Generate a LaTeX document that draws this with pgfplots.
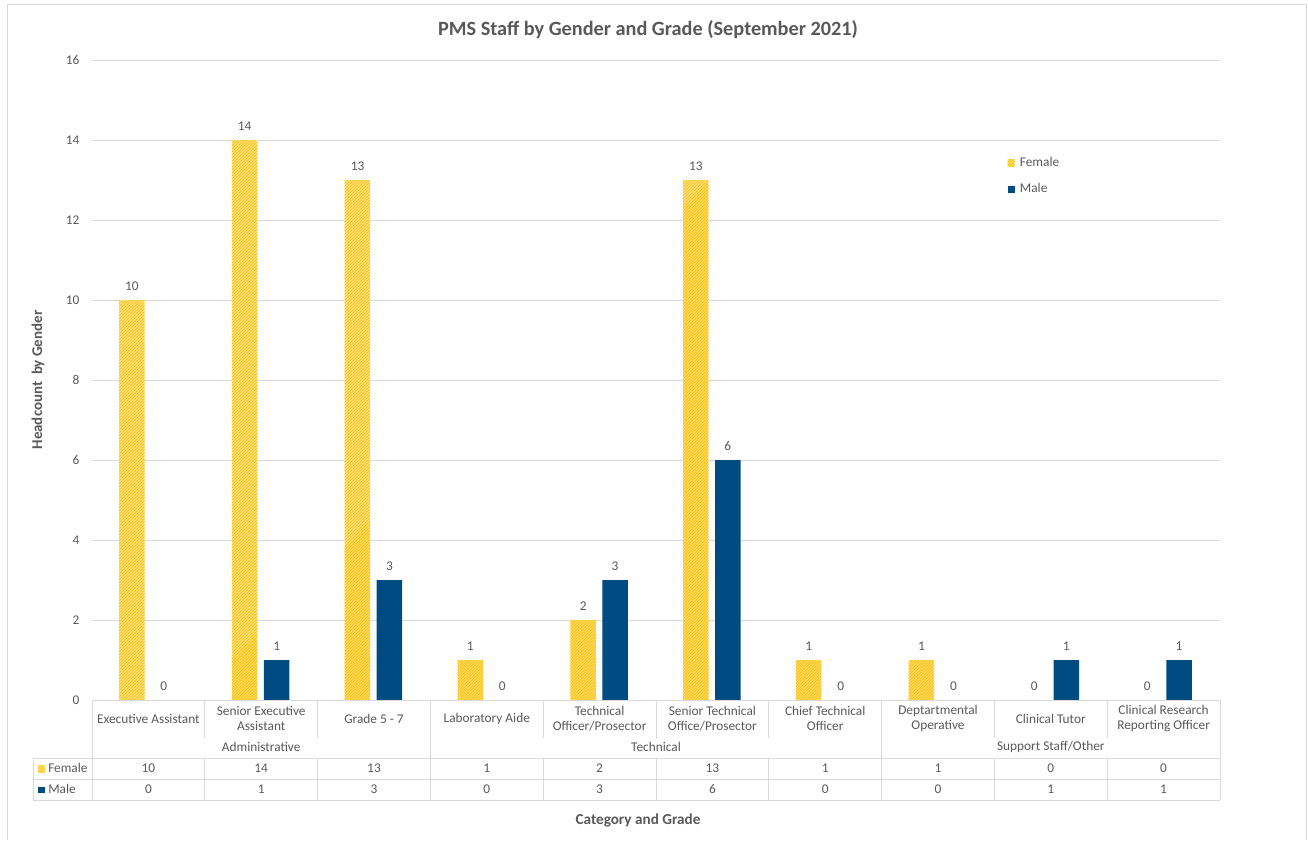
\documentclass[border=0pt]{standalone}
\usepackage{fontspec}
\setmainfont{Carlito}
\usepackage{pgfplots}
\pgfplotsset{compat=1.18}
\usepackage{pgfplotstable}
\usetikzlibrary{patterns}

\definecolor{gold}{HTML}{FFC000}
\definecolor{navy}{HTML}{004B82}
\definecolor{txt}{HTML}{595959}
\definecolor{rule}{HTML}{D9D9D9}

% fine upward diagonal hatching for the Female series
\pgfdeclarepatternformonly{fineNE}{\pgfqpoint{-1pt}{-1pt}}{\pgfqpoint{3.25pt}{3.25pt}}{\pgfqpoint{2.25pt}{2.25pt}}{%
  \pgfsetlinewidth{1.05pt}%
  \pgfpathmoveto{\pgfqpoint{0pt}{0pt}}%
  \pgfpathlineto{\pgfqpoint{2.35pt}{2.35pt}}%
  \pgfusepath{stroke}}

% headcount per grade (x = grade index)
\pgfplotstableread[col sep=comma]{
x,female,male
1,10,0
2,14,1
3,13,3
4,1,0
5,2,3
6,13,6
7,1,0
8,1,0
9,0,1
10,0,1
}\staffdata

\newcommand{\lbl}{\fontsize{10}{11.5}\selectfont}

\begin{document}
\begin{tikzpicture}
% layout grid: 1 unit = 0.75pt, origin top-left, y downwards
\begin{scope}[x=0.75pt,y=-0.75pt]
\draw[rule, line width=0.75pt] (7,840) -- (7,4) -- (1306,4) -- (1306,840);
\end{scope}

\begin{axis}[
  at={(69pt,-525pt)}, anchor=south west,
  scale only axis, width=846pt, height=480pt,
  xmin=0.5, xmax=10.5, ymin=0, ymax=16,
  ytick={0,2,...,16},
  xtick={1,...,10},
  xticklabels={Executive Assistant, {Senior Executive\\Assistant}, Grade 5 - 7,
    Laboratory Aide, {Technical\\Officer/Prosector}, {Senior Technical\\Office/Prosector},
    {Chief Technical\\Officer}, {Deptartmental\\Operative}, Clinical Tutor,
    {Clinical Research\\Reporting Officer}},
  xticklabel style={align=center, anchor=center, yshift=-13.9pt, font=\lbl, text=txt},
  yticklabel style={font=\lbl, text=txt, xshift=-6pt},
  major tick length=0pt,
  ymajorgrids, grid style={rule, line width=0.75pt},
  axis line style={draw=none},
  /pgf/number format/assume math mode=true,
  clip=false,
  legend style={at={(0.8115,0.852)}, anchor=north west, draw=none, fill=none,
    font=\lbl, text=txt, row sep=7pt, inner sep=0pt,
    nodes={inner xsep=4pt}},
  legend cell align=left,
  legend image code/.code={\path[#1,draw=none] (0pt,-2.6pt) rectangle (5.2pt,2.6pt);},
  every node near coord/.append style={font=\lbl, text=txt},
]
% bars
\addplot[ybar, bar width=19.1pt, bar shift=-12.4pt, draw=none, fill=white, forget plot]
  table[x=x, y=female]{\staffdata};
\addplot[ybar, bar width=19.1pt, bar shift=-12.4pt, draw=none, pattern=fineNE, pattern color=gold]
  table[x=x, y=female]{\staffdata};
\addlegendentry{Female}
\addplot[ybar, bar width=19.1pt, bar shift=11.6pt, draw=none, fill=navy]
  table[x=x, y=male]{\staffdata};
\addlegendentry{Male}

% value labels above the bars
\addplot[only marks, mark=*, mark size=0pt, draw=none, fill=none, forget plot,
  nodes near coords, point meta=explicit, nodes near coords align={above},
  every node near coord/.append style={yshift=3.5pt}]
  table[x expr=\thisrow{x}-0.146, y=female, meta=female]{\staffdata};
\addplot[only marks, mark=*, mark size=0pt, draw=none, fill=none, forget plot,
  nodes near coords, point meta=explicit, nodes near coords align={above},
  every node near coord/.append style={yshift=3.5pt}]
  table[x expr=\thisrow{x}+0.137, y=male, meta=male]{\staffdata};

% data table rows
\addplot[only marks, mark=*, mark size=0pt, draw=none, fill=none, forget plot,
  nodes near coords, point meta=explicit, every node near coord/.append style={anchor=center}]
  table[x=x, y expr=-1.7125, meta=female]{\staffdata};
\addplot[only marks, mark=*, mark size=0pt, draw=none, fill=none, forget plot,
  nodes near coords, point meta=explicit, every node near coord/.append style={anchor=center}]
  table[x=x, y expr=-2.2375, meta=male]{\staffdata};

% table rules
\draw[rule, line width=0.75pt] (axis cs:0.5,0) -- (axis cs:10.5,0);
\draw[rule, line width=0.75pt] (axis cs:-0.023,-1.45) -- (axis cs:10.5,-1.45);
\draw[rule, line width=0.75pt] (axis cs:-0.023,-1.975) -- (axis cs:10.5,-1.975);
\draw[rule, line width=0.75pt] (axis cs:-0.023,-2.5) -- (axis cs:10.5,-2.5);
\draw[rule, line width=0.75pt] (axis cs:-0.023,-1.45) -- (axis cs:-0.023,-2.5);
\pgfplotsinvokeforeach{0.5,3.5,7.5,10.5}{
  \draw[rule, line width=0.75pt] (axis cs:#1,0) -- (axis cs:#1,-2.5);
}
\pgfplotsinvokeforeach{1.5,2.5,4.5,5.5,6.5,8.5,9.5}{
  \draw[rule, line width=0.75pt] (axis cs:#1,0) -- (axis cs:#1,-0.95);
  \draw[rule, line width=0.75pt] (axis cs:#1,-1.45) -- (axis cs:#1,-2.5);
}
% category groups
\node[font=\lbl, text=txt] at (axis cs:2,-1.175) {Administrative};
\node[font=\lbl, text=txt] at (axis cs:5.5,-1.175) {Technical};
\node[font=\lbl, text=txt] at (axis cs:9,-1.175) {Support Staff/Other};
\end{axis}

\begin{scope}[x=0.75pt,y=-0.75pt]
% series keys in the data table
\path[pattern=fineNE, pattern color=gold] (38,765.5) rectangle (45,772);
\node[font=\lbl, text=txt, anchor=west, inner sep=0pt] at (48,768) {Female};
\path[fill=navy] (38,786.5) rectangle (45,793);
\node[font=\lbl, text=txt, anchor=west, inner sep=0pt] at (48,789) {Male};

% titles
\node[font=\fontsize{15.2}{17}\selectfont\bfseries, text=txt] at (648,30) {PMS Staff by Gender and Grade (September 2021)};
\node[font=\fontsize{11.2}{13}\selectfont\bfseries, text=txt, rotate=90] at (38,380) {Headcount\ \ by Gender};
\node[font=\fontsize{11.4}{13}\selectfont\bfseries, text=txt] at (638,820) {Category and Grade};

\pgfresetboundingbox
\path[use as bounding box] (0,0) rectangle (1308,840);
\end{scope}
\end{tikzpicture}
\end{document}
